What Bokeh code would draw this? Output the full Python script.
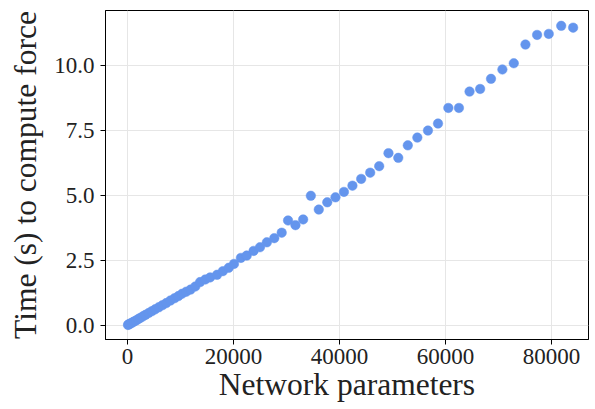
from bokeh.plotting import figure
from bokeh.models import FixedTicker, Range1d, CustomJSTickFormatter, ColumnDataSource
from bokeh.embed import file_html
from bokeh.resources import INLINE

# Network parameters (count) and time (s) to compute force
params = [100, 200, 400, 600, 900, 1200, 1600, 2000, 2400, 2900, 3400, 4000,
          4600, 5200, 5900, 6600, 7300, 8100, 8900, 9600, 10300, 11100, 11900,
          12800, 13700, 14700, 15600, 16900, 18000, 19100, 20100, 21400, 22500,
          23800, 25000, 26300, 27700, 29100, 30300, 31700, 33150, 34600, 36100,
          37700, 39250, 40850, 42450, 44100, 45800, 47500, 49250, 51100, 52900,
          54700, 56700, 58600, 60550, 62550, 64550, 66550, 68600, 70750, 72900,
          75100, 77300, 79500, 81850, 84100]
times = [0.02, 0.04, 0.06, 0.08, 0.11, 0.15, 0.19, 0.24, 0.29, 0.35, 0.41, 0.48,
         0.55, 0.62, 0.70, 0.78, 0.86, 0.96, 1.05, 1.13, 1.22, 1.30, 1.38,
         1.50, 1.67, 1.77, 1.85, 1.95, 2.09, 2.22, 2.37, 2.60, 2.69,
         2.87, 3.01, 3.20, 3.36, 3.57, 4.04, 3.86, 4.08, 4.99, 4.46,
         4.74, 4.93, 5.14, 5.38, 5.64, 5.88, 6.13, 6.63, 6.45, 6.93,
         7.23, 7.50, 7.77, 8.37, 8.37, 9.00, 9.10, 9.49, 9.85, 10.09,
         10.81, 11.18, 11.22, 11.53, 11.46]

x_ticks = [0, 20000, 40000, 60000, 80000]
y_ticks = [0.0, 2.5, 5.0, 7.5, 10.0]

FONT = "Liberation Serif"

p = figure(width=595, height=409, output_backend="svg", toolbar_location=None,
           x_range=Range1d(-4150, 87000), y_range=Range1d(-0.54, 12.12),
           min_border_left=105, min_border_right=7, min_border_top=10,
           min_border_bottom=70)

src = ColumnDataSource(dict(x=params, y=times))
p.scatter("x", "y", source=src, size=9.5, fill_color="#6495ED",
          line_color="#6495ED", line_width=0.5)

p.xaxis.ticker = FixedTicker(ticks=x_ticks)
p.yaxis.ticker = FixedTicker(ticks=y_ticks)
p.yaxis.formatter = CustomJSTickFormatter(code="return tick.toFixed(1);")
p.xaxis.formatter = CustomJSTickFormatter(code="return tick.toFixed(0);")

p.xaxis.axis_label = "Network parameters"
p.yaxis.axis_label = "Time (s) to compute force"

for ax in (p.xaxis, p.yaxis):
    ax.axis_label_text_font = FONT
    ax.major_label_text_font = FONT
    ax.axis_label_text_font_style = "normal"
    ax.axis_label_text_font_size = "31.5px"
    ax.major_label_text_font_size = "23px"
    ax.axis_label_text_color = "#222222"
    ax.major_label_text_color = "#222222"
    ax.major_tick_in = 0
    ax.major_tick_out = 5
    ax.minor_tick_in = 0
    ax.minor_tick_out = 0
    ax.axis_line_color = "black"
    ax.major_tick_line_color = "black"

p.xaxis.major_label_standoff = 4
p.xaxis.axis_label_standoff = 0
p.yaxis.major_label_standoff = 6
p.yaxis.axis_label_standoff = 8

p.xgrid.grid_line_color = "#e6e6e6"
p.ygrid.grid_line_color = "#e6e6e6"
p.xgrid.grid_line_width = 1
p.ygrid.grid_line_width = 1

p.outline_line_color = "black"
p.outline_line_width = 1
p.outline_line_alpha = 1
p.background_fill_color = "white"
p.border_fill_color = "white"

open("out.html", "w").write(file_html(p, INLINE))
